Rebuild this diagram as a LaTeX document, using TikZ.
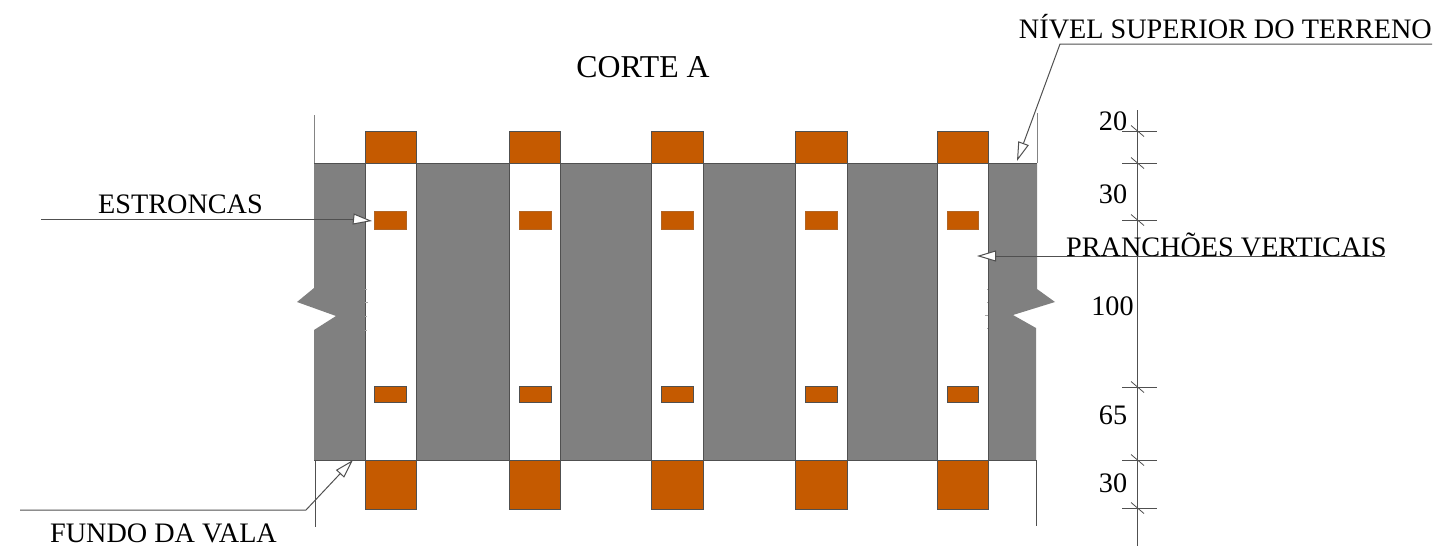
\documentclass[tikz,border=0pt]{standalone}
\usepackage{fontspec}
\setmainfont{Liberation Serif}
\usetikzlibrary{arrows.meta}
\definecolor{soil}{HTML}{808080}
\definecolor{timber}{HTML}{C55A00}
\definecolor{edgeline}{HTML}{505050}
\tikzset{
  thinline/.style={draw=edgeline,line width=1pt},
  ground/.style={fill=soil,draw=edgeline,line width=1pt},
  beam/.style={fill=timber,draw=edgeline,line width=1pt},
  lbl/.style={inner sep=0pt,font=\fontsize{28.2}{30}\selectfont,text=black},
  leader/.style={thinline,-{Triangle[open,fill=white,length=19pt,width=11pt,line width=1pt]}},
  faint/.style={draw=edgeline!50,line width=0.7pt},
}
\begin{document}
\begin{tikzpicture}[x=1pt,y=-1pt]
\useasboundingbox (0,0) rectangle (1436,546);
% soil
\fill[ground,draw=none] (314,163) -- (1037,163) -- (1037,289) -- (1055,302) -- (1013,315) -- (1036,328) -- (1036,460)
  -- (314,460) -- (314,330) -- (336,316) -- (297,302) -- (314,288) -- cycle;
\draw[thinline] (314,163) -- (1037,163);
\draw[thinline] (314,460) -- (1037,460);
% side walls
\draw[thinline,draw=edgeline!70] (314,115) -- (314,163);
\draw[thinline,draw=edgeline!70] (1037,113) -- (1037,163);
\draw[thinline] (315,460) -- (315,527);
\draw[thinline] (1036,460) -- (1036,526);
% planks and beams
\foreach \xa/\xb/\sa/\sb in {365/416/374.5/406.5, 509/560/519/551, 651/703/661/693, 795/847/805/837, 937/988/947/978}{
  \fill[white] (\xa,163) rectangle (\xb,460);
  \draw[thinline] (\xa,163) -- (\xa,460);
  \draw[thinline] (\xb,163) -- (\xb,460);
  \draw[beam] (\xa,131) rectangle (\xb,163);
  \draw[beam] (\xa,460) rectangle (\xb,509);
  \draw[beam,draw=timber!70!gray] (\sa,211) rectangle (\sb,229);
  \draw[beam] (\sa,386) rectangle (\sb,402);
}
% faint marks of the break on the plank edges
\foreach \y/\e in {289/367,302/368,316/366.5,330/367}{\draw[faint] (365,\y) -- (\e,\y);}
\foreach \y/\e in {289/987,302/986.5,315/985,328/986.5}{\draw[faint] (988,\y) -- (\e,\y);}
% dimension line
\draw[thinline] (1137,110) -- (1137,546);
\foreach \y in {131,163,220,387,460,508}{
  \draw[thinline,line width=0.8pt] (1122,\y) -- (1157,\y);
  \draw[thinline,line width=0.8pt] (1131,\y-5.5) -- (1144,\y+5.5);
}
% labels
\node[lbl,anchor=base,font=\fontsize{31.8}{34}\selectfont] (corte) at (643,77) {CORTE A};
\node[lbl,anchor=base east] (nivel) at (1432,38) {NÍVEL SUPERIOR DO TERRENO};
\node[lbl,anchor=base west] (estroncas) at (98,213.5) {ESTRONCAS};
\node[lbl,anchor=base west] (pranchoes) at (1066,256) {PRANCHÕES VERTICAIS};
\node[lbl,anchor=base west] (fundo) at (50,542) {FUNDO DA VALA};
\node[lbl] (d20) at (1113,121) {20};
\node[lbl] (d30a) at (1113,194) {30};
\node[lbl] (d100) at (1112.5,306.5) {100};
\node[lbl] (d65) at (1113,415.5) {65};
\node[lbl] (d30b) at (1113,483) {30};
% leaders
\coordinate (n0) at (1432,44); \coordinate (n1) at (1060,44); \coordinate (n2) at (1017,161);
\draw[leader] (n0) -- (n1) -- (n2);
\coordinate (e0) at (41,219); \coordinate (e1) at (353,219); \coordinate (e2) at (372,221);
\draw[thinline] (e0) -- (e1);
\draw[leader] (e1) -- (e2);
\coordinate (p0) at (1385,256); \coordinate (p1) at (977,256);
\draw[leader] (p0) -- (p1);
\coordinate (f0) at (20,510); \coordinate (f1) at (306,510); \coordinate (f2) at (353,460);
\draw[leader] (f0) -- (f1) -- (f2);
\end{tikzpicture}
\end{document}
